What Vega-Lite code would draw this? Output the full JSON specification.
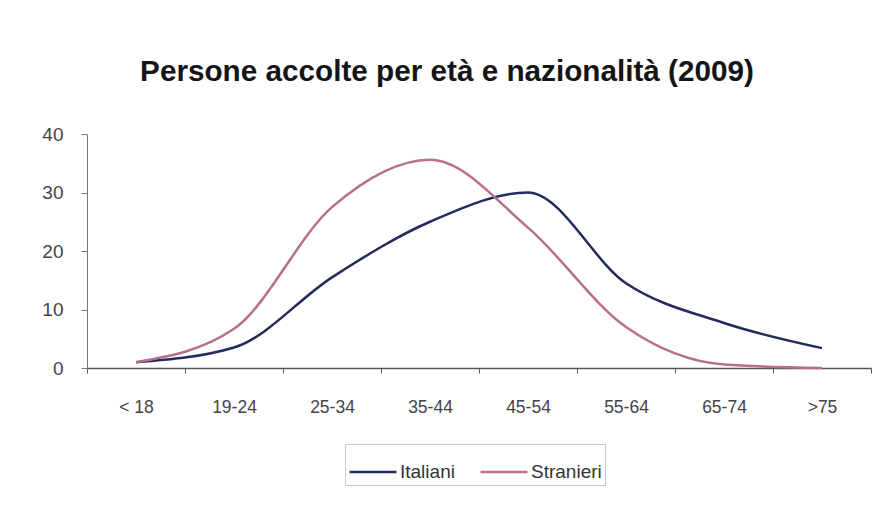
{
  "$schema": "https://vega.github.io/schema/vega-lite/v6.json",
  "autosize": {"type": "none"},
  "width": 784,
  "height": 234,
  "padding": {"left": 87, "top": 134, "right": 23, "bottom": 151},
  "background": "white",
  "title": {
    "text": "Persone accolte per età e nazionalità (2009)",
    "font": "Liberation Sans",
    "fontSize": 29.7,
    "fontWeight": "bold",
    "color": "#151515",
    "anchor": "middle",
    "dx": -32,
    "offset": 37
  },
  "data": {
    "values": [
      {"age": "< 18", "group": "Italiani", "value": 1},
      {"age": "19-24", "group": "Italiani", "value": 3.5},
      {"age": "25-34", "group": "Italiani", "value": 15.5},
      {"age": "35-44", "group": "Italiani", "value": 25},
      {"age": "45-54", "group": "Italiani", "value": 30},
      {"age": "55-64", "group": "Italiani", "value": 14.5},
      {"age": "65-74", "group": "Italiani", "value": 7.7},
      {"age": ">75", "group": "Italiani", "value": 3.4},
      {"age": "< 18", "group": "Stranieri", "value": 1},
      {"age": "19-24", "group": "Stranieri", "value": 6.7},
      {"age": "25-34", "group": "Stranieri", "value": 27.5},
      {"age": "35-44", "group": "Stranieri", "value": 35.6},
      {"age": "45-54", "group": "Stranieri", "value": 24},
      {"age": "55-64", "group": "Stranieri", "value": 7},
      {"age": "65-74", "group": "Stranieri", "value": 0.6},
      {"age": ">75", "group": "Stranieri", "value": 0}
    ]
  },
  "mark": {"type": "line", "interpolate": "monotone", "strokeWidth": 2.5},
  "encoding": {
    "x": {
      "field": "age",
      "type": "ordinal",
      "sort": null,
      "scale": {"paddingInner": 0, "paddingOuter": 0},
      "axis": {
        "title": null,
        "labelAngle": 0,
        "labelFont": "Liberation Sans",
        "labelFontSize": 17.5,
        "labelColor": "#444",
        "labelPadding": 25,
        "tickBand": "extent",
        "tickSize": 5,
        "tickColor": "#555",
        "domainColor": "#555",
        "domainWidth": 1.5,
        "grid": false
      }
    },
    "y": {
      "field": "value",
      "type": "quantitative",
      "scale": {"domain": [0, 40], "nice": false},
      "axis": {
        "title": null,
        "values": [0, 10, 20, 30, 40],
        "labelFont": "Liberation Sans",
        "labelFontSize": 19,
        "labelColor": "#444",
        "labelPadding": 18,
        "tickSize": 6,
        "tickColor": "#777",
        "domainColor": "#777",
        "grid": false
      }
    },
    "color": {
      "field": "group",
      "type": "nominal",
      "scale": {"domain": ["Italiani", "Stranieri"], "range": ["#222b5c", "#b86f8e"]},
      "legend": {
        "title": null,
        "orient": "none",
        "direction": "horizontal",
        "legendX": 258,
        "legendY": 310,
        "symbolType": "stroke",
        "symbolSize": 2200,
        "symbolStrokeWidth": 2.5,
        "labelFont": "Liberation Sans",
        "labelFontSize": 19,
        "labelColor": "#333",
        "labelOffset": 2,
        "columnPadding": 20,
        "padding": 3,
        "strokeColor": "#c8c8c8"
      }
    }
  },
  "config": {"view": {"stroke": null}}
}
